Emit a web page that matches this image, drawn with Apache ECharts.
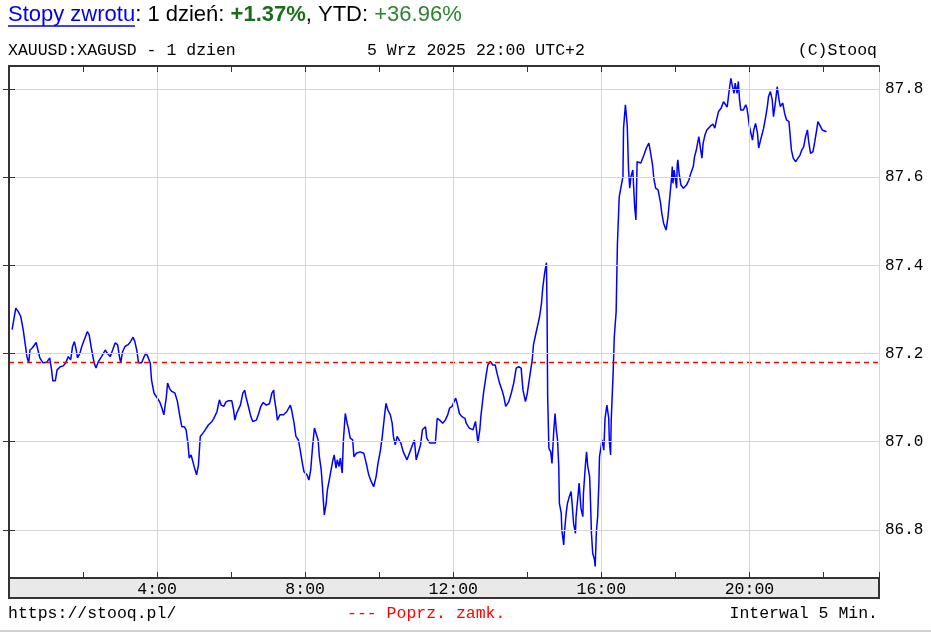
<!DOCTYPE html>
<html>
<head>
<meta charset="utf-8">
<script src="https://cdn.jsdelivr.net/npm/echarts@6/dist/echarts.min.js"></script>
<style>
html,body{margin:0;padding:0;background:#fff;}
#chart{width:931px;height:632px;}
</style>
</head>
<body>
<div id="chart"></div>
<script>
// minutes since 0:00 (5 Wrz 2025)
var times = [
5,11,15,19,23,26,29,32,34,38,
41,44,46,50,55,61,66,69,71,75,
78,83,88,92,96,100,103,106,109,111,
115,118,122,127,130,134,138,141,145,150,
156,159,164,168,172,176,179,181,184,188,
193,197,201,204,207,210,215,219,222,225,
229,231,235,239,244,248,251,255,257,260,
264,269,273,276,280,284,287,290,292,295,
298,300,304,307,310,314,318,323,329,332,
337,341,344,348,352,356,361,364,366,369,
375,379,382,384,388,392,395,401,404,408,
412,417,422,426,429,430,433,435,439,445,
450,456,458,462,465,469,472,475,478,483,
486,489,492,495,498,501,503,506,508,511,
514,516,519,522,525,527,530,532,535,537,
540,542,545,548,550,553,557,559,563,569,
575,579,583,587,591,595,598,602,605,609,
611,614,618,621,623,626,629,632,635,639,
645,649,653,657,660,663,667,670,675,677,
682,685,691,694,698,703,707,711,714,718,
720,724,727,730,734,739,741,746,752,756,
758,760,763,765,769,773,776,780,784,788,
791,795,799,802,805,810,814,818,822,826,
830,833,837,840,844,848,850,854,857,860,
863,865,868,871,872,873,875,878,880,883,
885,887,889,891,892,895,896,899,900,903,
905,908,911,913,915,918,919,922,924,927,
930,931,934,936,938,941,942,944,946,949,
950,952,954,956,957,960,961,964,966,969,
972,973,975,976,979,981,984,986,989,992,
995,996,999,1002,1004,1006,1008,1011,1014,1016,
1018,1021,1024,1029,1033,1037,1039,1043,1045,1048,
1052,1056,1058,1061,1065,1068,1071,1074,1075,1076,
1078,1082,1083,1084,1086,1089,1093,1098,1102,1105,
1109,1111,1114,1116,1118,1121,1123,1125,1128,1131,
1137,1141,1144,1146,1150,1154,1158,1161,1164,1166,
1168,1170,1172,1175,1177,1180,1182,1184,1186,1190,
1194,1196,1198,1200,1203,1205,1207,1210,1213,1215,
1218,1221,1223,1226,1229,1231,1234,1237,1239,1242,
1245,1248,1250,1254,1257,1260,1264,1265,1268,1271,
1275,1278,1282,1285,1288,1291,1294,1296,1299,1303,
1306,1309,1311,1314,1318,1321,1325
];
var prices = [
87.254,87.303,87.295,87.284,87.254,87.224,87.193,87.179,87.208,87.213,
87.216,87.225,87.213,87.190,87.179,87.180,87.190,87.163,87.138,87.138,
87.163,87.170,87.172,87.179,87.193,87.186,87.216,87.227,87.208,87.190,
87.201,87.216,87.231,87.250,87.242,87.208,87.179,87.167,87.182,87.193,
87.208,87.201,87.193,87.208,87.224,87.220,87.193,87.179,87.204,87.216,
87.220,87.227,87.237,87.227,87.208,87.179,87.179,87.193,87.201,87.193,
87.178,87.140,87.110,87.102,87.091,87.076,87.061,87.102,87.133,87.121,
87.114,87.110,87.091,87.065,87.034,87.034,87.027,86.997,86.963,86.970,
86.955,86.944,86.925,86.947,87.012,87.019,87.027,87.038,87.046,87.053,
87.068,87.095,87.083,87.080,87.091,87.093,87.093,87.072,87.049,87.065,
87.083,87.110,87.117,87.102,87.080,87.057,87.046,87.049,87.061,87.080,
87.089,87.083,87.086,87.110,87.117,87.099,87.072,87.049,87.061,87.061,
87.068,87.083,87.072,87.042,87.012,87.004,86.981,86.955,86.932,86.925,
86.913,86.936,86.989,87.031,87.027,87.004,86.966,86.936,86.898,86.834,
86.860,86.891,86.913,86.936,86.959,86.970,86.940,86.959,86.944,86.963,
86.929,87.004,87.064,87.042,87.031,87.008,87.004,86.966,86.974,86.977,
86.974,86.951,86.925,86.910,86.898,86.921,86.951,86.981,87.012,87.064,
87.087,87.072,87.061,87.042,87.012,86.993,87.012,87.008,86.997,86.977,
86.959,86.974,86.989,87.004,86.959,86.974,86.993,87.027,87.034,87.008,
86.997,86.993,86.997,87.053,87.049,87.042,87.049,87.061,87.076,87.080,
87.087,87.099,87.083,87.064,87.057,87.053,87.042,87.031,87.027,87.046,
87.023,86.998,87.027,87.061,87.110,87.148,87.174,87.182,87.174,87.174,
87.155,87.133,87.117,87.102,87.080,87.091,87.110,87.133,87.167,87.170,
87.167,87.117,87.091,87.110,87.148,87.186,87.220,87.246,87.265,87.284,
87.314,87.348,87.382,87.406,87.303,87.102,86.985,86.977,86.951,87.027,
87.064,87.027,87.004,86.944,86.860,86.838,86.800,86.766,86.792,86.838,
86.860,86.875,86.887,86.853,86.815,86.792,86.830,86.875,86.906,86.849,
86.830,86.883,86.944,86.977,86.944,86.921,86.883,86.792,86.747,86.732,
86.717,86.797,86.830,86.906,86.966,86.993,87.004,86.981,87.053,87.083,
87.053,87.000,86.970,87.049,87.151,87.238,87.295,87.446,87.556,87.560,
87.601,87.711,87.764,87.716,87.620,87.575,87.601,87.616,87.533,87.503,
87.635,87.639,87.632,87.650,87.666,87.677,87.662,87.628,87.598,87.575,
87.571,87.541,87.518,87.495,87.480,87.510,87.556,87.601,87.624,87.586,
87.616,87.575,87.628,87.639,87.609,87.582,87.575,87.582,87.594,87.609,
87.624,87.646,87.662,87.677,87.692,87.662,87.643,87.677,87.696,87.707,
87.716,87.720,87.711,87.726,87.749,87.756,87.771,87.768,87.759,87.783,
87.805,87.824,87.809,87.790,87.813,87.790,87.817,87.775,87.752,87.752,
87.764,87.756,87.737,87.715,87.696,87.684,87.707,87.722,87.700,87.666,
87.684,87.700,87.711,87.734,87.760,87.783,87.794,87.775,87.737,87.768,
87.805,87.775,87.760,87.768,87.745,87.730,87.726,87.711,87.662,87.643,
87.635,87.639,87.650,87.662,87.669,87.692,87.707,87.681,87.654,87.658,
87.681,87.707,87.726,87.718,87.707,87.703,87.703
];
var prevClose = 87.18;
var xTickLabels = ['4:00','8:00','12:00','16:00','20:00'];
var headerParts = ['Stopy zwrotu', ': 1 dzień: ', '+1.37%', ', YTD: ', '+36.96%'];
var titleLeft = 'XAUUSD:XAGUSD - 1 dzien';
var titleMid = '5 Wrz 2025 22:00 UTC+2';
var titleRight = '(C)Stooq';
var footLeft = 'https://stooq.pl/';
var footMid = '--- Poprz. zamk.';
var footRight = 'Interwal 5 Min.';

var data = times.map(function (t, i) { return [t, prices[i]]; });
var MONO = '"Liberation Mono", "DejaVu Sans Mono", monospace';
var SANS = '"Liberation Sans", Arial, sans-serif';
var yMin = 86.691, yMax = 87.852;
var xMax = 1410;
var frame = '#333333';
var gridCol = '#d6d6d6';
var monoFont = '16.5px ' + MONO;

var chart = echarts.init(document.getElementById('chart'), null, {renderer: 'canvas'});
chart.setOption({
  animation: false,
  backgroundColor: '#ffffff',
  grid: {left: 9, right: 52, top: 66, bottom: 54, containLabel: false},
  xAxis: [
    {
      type: 'value', min: 0, max: xMax, interval: 240, position: 'bottom', z: 10,
      axisLine: {show: true, lineStyle: {color: frame, width: 2}},
      axisTick: {show: false},
      axisLabel: {
        show: true, margin: 3, color: '#000', fontFamily: MONO, fontSize: 16.5,
        showMinLabel: false, showMaxLabel: false,
        formatter: function (v) {
          var h = Math.round(v / 60);
          var lbl = h + ':00';
          return (v % 240 === 0 && xTickLabels.indexOf(lbl) >= 0) ? lbl : '';
        }
      },
      splitLine: {show: true, lineStyle: {color: gridCol, width: 1}}
    },
    {
      type: 'value', min: 0, max: xMax, interval: 120, position: 'bottom', z: 10,
      axisLine: {show: false},
      axisTick: {show: true, inside: true, length: 6, lineStyle: {color: frame, width: 1}},
      axisLabel: {show: false}, splitLine: {show: false}
    },
    {
      type: 'value', min: 0, max: xMax, interval: 120, position: 'top', z: 10,
      axisLine: {show: true, lineStyle: {color: frame, width: 2}},
      axisTick: {show: true, inside: true, length: 6, lineStyle: {color: frame, width: 1}},
      axisLabel: {show: false}, splitLine: {show: false}
    }
  ],
  yAxis: [
    {
      type: 'value', min: yMin, max: yMax, splitNumber: 5, position: 'right', z: 10,
      axisLine: {show: true, lineStyle: {color: frame, width: 2}},
      axisTick: {show: true, inside: true, length: 6, lineStyle: {color: frame, width: 1}},
      axisLabel: {
        show: true, margin: 6, color: '#000', fontFamily: MONO, fontSize: 16,
        showMinLabel: false, showMaxLabel: false,
        formatter: function (v) {
          return Math.abs(v * 5 - Math.round(v * 5)) < 1e-3 ? v.toFixed(1) : '';
        }
      },
      splitLine: {show: true, lineStyle: {color: gridCol, width: 1}}
    },
    {
      type: 'value', min: yMin, max: yMax, splitNumber: 5, position: 'left', z: 10,
      axisLine: {show: true, lineStyle: {color: frame, width: 2}},
      axisTick: {show: true, inside: true, length: 6, lineStyle: {color: frame, width: 1}},
      axisLabel: {show: false}, splitLine: {show: false}
    }
  ],
  series: [{
    type: 'line', xAxisIndex: 0, yAxisIndex: 0, data: data,
    showSymbol: false, symbol: 'none', z: 3,
    lineStyle: {color: '#0000ff', width: 1.5},
    markLine: {
      silent: true, symbol: 'none', label: {show: false},
      lineStyle: {color: '#ff0000', type: [5, 4], width: 1.3},
      data: [{yAxis: prevClose}]
    }
  }],
  graphic: [
    {type: 'rect', z: -5, shape: {x: 9, y: 578, width: 870, height: 20},
     style: {fill: '#e9e9e9', stroke: frame, lineWidth: 2}},
    {type: 'line', z: -5, shape: {x1: 0, y1: 631, x2: 931, y2: 631},
     style: {stroke: '#d0d0d0', lineWidth: 2}},
    {type: 'text', left: 8, top: 4, style: {
      text: '{a|' + headerParts[0] + '}{b|' + headerParts[1] + '}{c|' + headerParts[2] + '}{b|' + headerParts[3] + '}{d|' + headerParts[4] + '}',
      font: '22px ' + SANS,
      rich: {
        a: {fontFamily: SANS, fontSize: 22, fill: '#0000ee'},
        b: {fontFamily: SANS, fontSize: 22, fill: '#000000'},
        c: {fontFamily: SANS, fontSize: 22, fontWeight: 'bold', fill: '#1a6e1a'},
        d: {fontFamily: SANS, fontSize: 22, fill: '#2b852b'}
      }
    }},
    {type: 'line', shape: {x1: 8, y1: 26, x2: 135, y2: 26}, style: {stroke: '#0000ee', lineWidth: 1.5}},
    {type: 'text', left: 8, top: 42, style: {text: titleLeft, font: monoFont, fill: '#000'}},
    {type: 'text', left: 367, top: 42, style: {text: titleMid, font: monoFont, fill: '#000'}},
    {type: 'text', right: 54, top: 42, style: {text: titleRight, font: monoFont, fill: '#000'}},
    {type: 'text', left: 8, top: 605, style: {text: footLeft, font: monoFont, fill: '#000'}},
    {type: 'text', left: 347, top: 605, style: {text: footMid, font: monoFont, fill: '#ff0000'}},
    {type: 'text', right: 53, top: 605, style: {text: footRight, font: monoFont, fill: '#000'}}
  ]
});
</script>
</body>
</html>
